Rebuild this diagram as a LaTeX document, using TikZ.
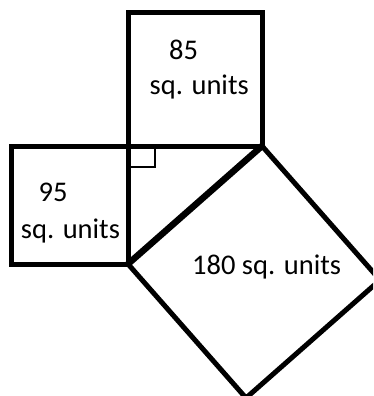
\documentclass[tikz,border=0pt]{standalone}
\usepackage{fontspec}
\setmainfont{Carlito}
\begin{document}
\begin{tikzpicture}[x=1pt,y=-1pt,
  sq/.style={line width=5pt,draw=black},
  hyp/.style={line width=6.5pt,draw=black},
  anglemark/.style={line width=1.4pt,draw=black},
  lbl/.style={anchor=base west,inner sep=0pt,font=\fontsize{28.5}{34}\selectfont}]
\useasboundingbox (0,0) rectangle (373,396);
\clip (0,0) rectangle (373,396);
% vertices
\coordinate (A) at (128,146);
\coordinate (B) at (262,146);
\coordinate (C) at (128,264);
\coordinate (T1) at (128,12.5);
\coordinate (T2) at (262,12.5);
\coordinate (L1) at (11,146);
\coordinate (L2) at (11,264);
\coordinate (D) at (380,280);
\coordinate (E) at (246,398);
\coordinate (M1) at (155,146);
\coordinate (M2) at (155,167);
\coordinate (M3) at (128,167);
% right-angle marker
\draw[anglemark] (M1) -- (M2) -- (M3);
% squares
\draw[sq] (A) -- (T1) -- (T2) -- (B) -- cycle;
\draw[sq] (A) -- (L1) -- (L2) -- (C) -- cycle;
\draw[sq] (B) -- (D) -- (E) -- (C);
\draw[hyp,line cap=round] (C) -- (B);
% labels
\node[lbl] (t85) at (169,59.5) {85};
\node[lbl] (t85u) at (149.5,94.5) {sq. units};
\node[lbl] (t95) at (38.5,201.7) {95};
\node[lbl] (t95u) at (20.7,238.3) {sq. units};
\node[lbl] (t180) at (192,274) {180 sq. units};
\end{tikzpicture}
\end{document}
